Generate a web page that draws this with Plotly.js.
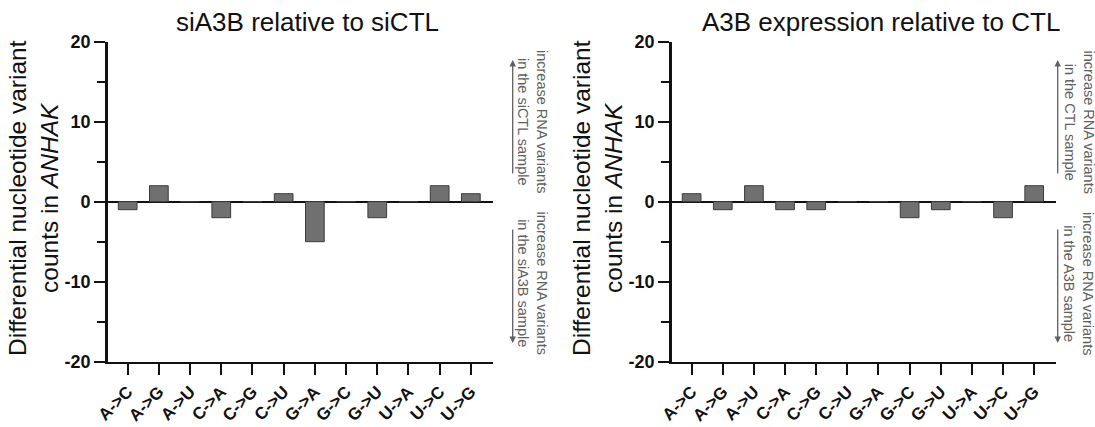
<!DOCTYPE html>
<html>
<head>
<meta charset="utf-8">
<script src="https://cdn.plot.ly/plotly-3.0.1.min.js"></script>
<style>
html,body{margin:0;padding:0;background:#fff;}
#chart{width:1095px;height:427px;}
</style>
</head>
<body>
<div id="chart"></div>
<script>
// ---- data ----
const categories = ["A->C","A->G","A->U","C->A","C->G","C->U","G->A","G->C","G->U","U->A","U->C","U->G"];
const siA3BvsSiCTL = [-1, 2, 0, -2, 0, 1, -5, 0, -2, 0, 2, 1];
const A3BvsCTL = [1, -1, 2, -1, -1, 0, 0, -2, -1, 0, -2, 2];
const titleLeft = "siA3B relative to siCTL";
const titleRight = "A3B expression relative to CTL";
const yTitle = "Differential nucleotide variant<br>counts in <i>ANHAK</i>";
const upLeft = "increase RNA variants<br>in the siCTL sample";
const downLeft = "increase RNA variants<br>in the siA3B sample";
const upRight = "increase RNA variants<br>in the CTL sample";
const downRight = "increase RNA variants<br>in the A3B sample";
const yTickVals = [-20, -10, 0, 10, 20];
const yTickText = ["-20", "-10", "0", "10", "20"];

// ---- layout helpers (pixel -> paper) ----
const W = 1095, H = 427;
const px = v => v / W;
const py = v => 1 - v / H;

const FONT = "Liberation Sans, Arial, sans-serif";
const barStyle = {color: "#707070", line: {color: "#3c3c3c", width: 1}};

const traces = [
  {type: "bar", x: categories, y: siA3BvsSiCTL, xaxis: "x", yaxis: "y", width: 0.6, marker: barStyle, hoverinfo: "x+y"},
  {type: "bar", x: categories, y: A3BvsCTL, xaxis: "x2", yaxis: "y2", width: 0.6, marker: barStyle, hoverinfo: "x+y"}
];

function xax(domain, anchor) {
  return {
    domain: domain, anchor: anchor, type: "category",
    range: [-0.64, 11.7],
    showgrid: false, zeroline: false,
    showline: true, linecolor: "#111", linewidth: 2.5,
    ticks: "outside", ticklen: 11, tickwidth: 2, tickcolor: "#111",
    tickangle: -45,
    tickfont: {family: FONT, size: 17, color: "#111", weight: "bold"},
    fixedrange: true
  };
}
function yax(domain, anchor) {
  return {
    domain: domain, anchor: anchor,
    range: [-20, 20],
    showgrid: false,
    zeroline: true, zerolinecolor: "#111", zerolinewidth: 2,
    showline: true, linecolor: "#111", linewidth: 2.5,
    ticks: "outside", ticklen: 11, tickwidth: 2, tickcolor: "#111",
    tickmode: "array", tickvals: yTickVals, ticktext: yTickText,
    tickfont: {family: FONT, size: 18, color: "#111", weight: "bold"},
    minor: {ticks: "outside", ticklen: 8, tickwidth: 2, tickcolor: "#111", dtick: 5, tick0: 0},
    fixedrange: true
  };
}

const yDom = [py(361.7), py(41.7)];

function sideNotes(arrowX, textX, upText, downText) {
  const gray = "#606060";
  return [
    {xref: "paper", yref: "paper", x: px(textX), y: py(121.5), text: upText, showarrow: false,
     textangle: 90, xanchor: "center", yanchor: "middle",
     font: {family: FONT, size: 14.5, color: gray}},
    {xref: "paper", yref: "paper", x: px(textX), y: py(283), text: downText, showarrow: false,
     textangle: 90, xanchor: "center", yanchor: "middle",
     font: {family: FONT, size: 14.5, color: gray}},
    {xref: "paper", yref: "paper", x: px(arrowX), y: py(60), text: "", showarrow: true,
     axref: "pixel", ayref: "pixel", ax: 0, ay: 115,
     arrowhead: 2, arrowsize: 1, arrowwidth: 1.3, arrowcolor: gray},
    {xref: "paper", yref: "paper", x: px(arrowX), y: py(343), text: "", showarrow: true,
     axref: "pixel", ayref: "pixel", ax: 0, ay: -115,
     arrowhead: 2, arrowsize: 1, arrowwidth: 1.3, arrowcolor: gray}
  ];
}

const annotations = [
  {xref: "paper", yref: "paper", x: px(307), y: py(22), text: titleLeft, showarrow: false,
   xanchor: "center", yanchor: "middle", font: {family: FONT, size: 26, color: "#111"}},
  {xref: "paper", yref: "paper", x: px(881), y: py(22), text: titleRight, showarrow: false,
   xanchor: "center", yanchor: "middle", font: {family: FONT, size: 26, color: "#111"}},
  {xref: "paper", yref: "paper", x: px(33), y: py(198), text: yTitle, showarrow: false,
   textangle: -90, xanchor: "center", yanchor: "middle",
   font: {family: FONT, size: 24.5, color: "#111"}},
  {xref: "paper", yref: "paper", x: px(597), y: py(198), text: yTitle, showarrow: false,
   textangle: -90, xanchor: "center", yanchor: "middle",
   font: {family: FONT, size: 24.5, color: "#111"}}
].concat(sideNotes(512.7, 532.5, upLeft, downLeft))
 .concat(sideNotes(1057.7, 1079, upRight, downRight));

const layout = {
  width: W, height: H,
  margin: {l: 0, r: 0, t: 0, b: 0},
  paper_bgcolor: "#fff", plot_bgcolor: "#fff",
  showlegend: false,
  bargap: 0.4,
  font: {family: FONT},
  xaxis: xax([px(107.7), px(492.7)], "y"),
  yaxis: yax(yDom, "x"),
  xaxis2: xax([px(671.7), px(1056)], "y2"),
  yaxis2: yax(yDom, "x2"),
  annotations: annotations
};

Plotly.newPlot("chart", traces, layout, {displayModeBar: false, staticPlot: true});
</script>
</body>
</html>
